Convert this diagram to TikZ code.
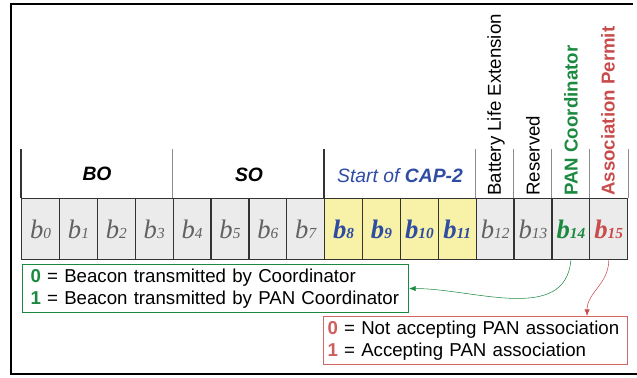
\documentclass[tikz,border=0pt]{standalone}
\usepackage{fontspec}
\setmainfont{Liberation Serif}
\setsansfont{Liberation Sans}
\usetikzlibrary{arrows.meta}

\definecolor{cellgrey}{HTML}{EBEBEC}
\definecolor{capyellow}{HTML}{F8F2A8}
\definecolor{capblue}{HTML}{2F4CA3}
\definecolor{pangreen}{HTML}{1B8A40}
\definecolor{permred}{HTML}{C94C4C}
\definecolor{headgrey}{HTML}{8C8C8C}

\newcommand{\bitlabel}[1]{{\fontsize{20}{20}\selectfont b}{\fontsize{11.5}{12}\selectfont #1}}

\tikzset{
  bitcell/.style={draw=black!80, line width=1pt, minimum width=28.41pt,
    minimum height=45.75pt, inner sep=0pt, anchor=north west},
  plainbit/.style={fill=cellgrey, text=black!62, font=\itshape},
  capbit/.style={fill=capyellow, text=capblue, font=\bfseries\itshape},
  panbit/.style={fill=cellgrey, text=pangreen, font=\bfseries\itshape},
  permbit/.style={fill=cellgrey, text=permred, font=\bfseries\itshape},
  headtext/.style={font=\sffamily\bfseries\itshape\fontsize{14.5}{16}\selectfont},
  sidetext/.style={font=\sffamily\fontsize{14}{16}\selectfont, rotate=90,
    anchor=west, inner sep=0pt},
  legendbox/.style={anchor=north west, line width=0.8pt, align=left,
    minimum height=36pt, inner ysep=0pt,
    font=\sffamily\fontsize{14}{16.5}\selectfont}
}

\begin{document}
\begin{tikzpicture}[x=0.75pt, y=-0.75pt]
  \useasboundingbox (0,0) rectangle (637,378);
  % outer frame, open on the right
  \draw [line width=1.5pt] (633,4) -- (11,4) -- (11,374) -- (637,374);

  % the sixteen bits
  \foreach \i/\sty in {0/plainbit,1/plainbit,2/plainbit,3/plainbit,
      4/plainbit,5/plainbit,6/plainbit,7/plainbit,
      8/capbit,9/capbit,10/capbit,11/capbit,
      12/plainbit,13/plainbit,14/panbit,15/permbit}
    \node [bitcell, \sty] (b\i) at ({21+\i*37.875},198) {\bitlabel{\i}};

  % header separators
  \draw [black!80, line width=0.8pt] (b0.north west) -- ++(0,-49);
  \draw [black!80, line width=0.8pt] (b8.north west) -- ++(0,-49);
  \foreach \j in {4,12,13,14,15}
    \draw [headgrey, line width=0.8pt] (b\j.north west) -- ++(0,-49);
  \draw [headgrey, line width=0.8pt] (b15.north east) -- ++(0,-49);

  % header labels
  \node [headtext] (bo) at (97,174) {BO};
  \node [headtext] (so) at (249,175) {SO};
  \node [headtext, text=capblue] (cap) at (400,176)
    {\mdseries Start of \bfseries CAP-2};
  \node [sidetext] (ble) at (496,196) {Battery Life Extension};
  \node [sidetext] (res) at (533,196) {Reserved};
  \node [sidetext, text=pangreen, font=\sffamily\bfseries\fontsize{14}{16}\selectfont]
    (pan) at (571,196) {PAN Coordinator};
  \node [sidetext, text=permred, font=\sffamily\bfseries\fontsize{14}{16}\selectfont]
    (perm) at (608,196) {Association Permit};

  % meaning of the two flags
  \node [legendbox, draw=pangreen, text width=277.5pt, inner xsep=6pt]
    (coordbox) at (22,264)
    {{\color{pangreen}\bfseries 0} = Beacon transmitted by Coordinator\\
     {\color{pangreen}\bfseries 1} = Beacon transmitted by PAN Coordinator};
  \node [legendbox, draw=permred!85, text width=222pt, inner xsep=3pt]
    (permbox) at (323,316)
    {{\color{permred!90}\bfseries 0} = Not accepting PAN association\\
     {\color{permred!90}\bfseries 1} = Accepting PAN association};

  \draw [pangreen, -{Latex[length=5pt,width=4pt]}] (b14.south)
    to [out=-95, in=0] (coordbox.east);
  \draw [permred, -{Latex[length=5pt,width=4pt]}] (b15.south)
    to [out=-90, in=90] ([xshift=-30.75pt]permbox.north east);
\end{tikzpicture}
\end{document}
